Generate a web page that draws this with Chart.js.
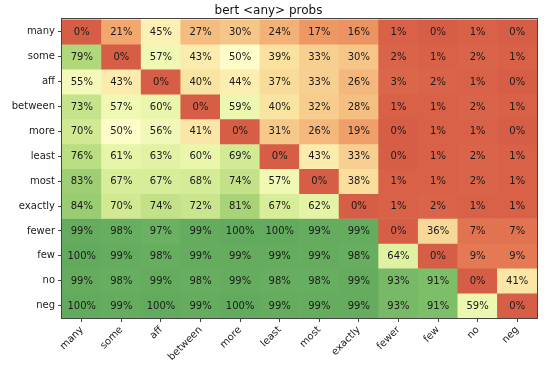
<!DOCTYPE html>
<html>
<head>
<meta charset="utf-8">
<script src="https://cdn.jsdelivr.net/npm/chart.js@4.4.0/dist/chart.umd.min.js"></script>
<style>
  html, body { margin: 0; padding: 0; background: #fff; }
  #wrap { width: 557px; height: 373px; }
</style>
</head>
<body>
<div id="wrap"><canvas id="heat"></canvas></div>
<script>
/* --------------- Data --------------------- */
const colLabels = ["many", "some", "aff", "between", "more", "least", "most", "exactly", "fewer", "few", "no", "neg"];
const rowLabels = ["many", "some", "aff", "between", "more", "least", "most", "exactly", "fewer", "few", "no", "neg"];

// percent values, one array per row
const rowMany    = [0, 21, 45, 27, 30, 24, 17, 16, 1, 0, 1, 0];
const rowSome    = [79, 0, 57, 43, 50, 39, 33, 30, 2, 1, 2, 1];
const rowAff     = [55, 43, 0, 40, 44, 37, 33, 26, 3, 2, 1, 0];
const rowBetween = [73, 57, 60, 0, 59, 40, 32, 28, 1, 1, 2, 1];
const rowMore    = [70, 50, 56, 41, 0, 31, 26, 19, 0, 1, 1, 0];
const rowLeast   = [76, 61, 63, 60, 69, 0, 43, 33, 0, 1, 2, 1];
const rowMost    = [83, 67, 67, 68, 74, 57, 0, 38, 1, 1, 2, 1];
const rowExactly = [84, 70, 74, 72, 81, 67, 62, 0, 1, 2, 1, 1];
const rowFewer   = [99, 98, 97, 99, 100, 100, 99, 99, 0, 36, 7, 7];
const rowFew     = [100, 99, 98, 99, 99, 99, 99, 98, 64, 0, 9, 9];
const rowNo      = [99, 98, 99, 98, 99, 98, 98, 99, 93, 91, 0, 41];
const rowNeg     = [100, 99, 100, 99, 100, 99, 99, 99, 93, 91, 59, 0];

const matrix = [rowMany, rowSome, rowAff, rowBetween, rowMore, rowLeast,
                rowMost, rowExactly, rowFewer, rowFew, rowNo, rowNeg];

/* --------------- Colour map (faded red-yellow-green) --------------------- */
const stops = [
  [0.00, [214, 94, 70]],
  [0.10, [229, 124, 84]],
  [0.20, [241, 163, 108]],
  [0.30, [246, 198, 136]],
  [0.40, [250, 228, 162]],
  [0.50, [254, 252, 200]],
  [0.60, [234, 246, 172]],
  [0.70, [208, 233, 146]],
  [0.80, [172, 214, 120]],
  [0.90, [128, 192, 106]],
  [1.00, [98, 170, 94]],
];
function colorFor(pct) {
  const t = Math.max(0, Math.min(1, pct / 100));
  for (let i = 1; i < stops.length; i++) {
    if (t <= stops[i][0]) {
      const [t0, c0] = stops[i - 1];
      const [t1, c1] = stops[i];
      const f = (t - t0) / (t1 - t0);
      const c = c0.map((v, k) => Math.round(v + (c1[k] - v) * f));
      return `rgb(${c[0]},${c[1]},${c[2]})`;
    }
  }
  const c = stops[stops.length - 1][1];
  return `rgb(${c[0]},${c[1]},${c[2]})`;
}

/* --------------- Datasets: one floating bar row per matrix row --------------------- */
const datasets = matrix.map((row, r) => ({
  label: rowLabels[r],
  data: row.map(() => [r, r + 1]),
  pct: row,
  backgroundColor: row.map(colorFor),
  borderWidth: 0,
  grouped: false,
  barPercentage: 1,
  categoryPercentage: 1,
}));

/* --------------- Cell text + frame --------------------- */
const cellText = {
  id: "cellText",
  afterDatasetsDraw(chart) {
    const ctx = chart.ctx;
    ctx.save();
    ctx.font = "10px 'DejaVu Sans'";
    ctx.fillStyle = "#1a1a1a";
    ctx.textAlign = "center";
    ctx.textBaseline = "middle";
    chart.data.datasets.forEach((ds, i) => {
      chart.getDatasetMeta(i).data.forEach((el, j) => {
        ctx.fillText(ds.pct[j] + "%", el.x, (el.y + el.base) / 2 + 0.5);
      });
    });
    ctx.restore();
  },
  afterDraw(chart) {
    const a = chart.chartArea;
    const ctx = chart.ctx;
    ctx.save();
    ctx.strokeStyle = "#444";
    ctx.lineWidth = 1;
    ctx.strokeRect(Math.round(a.left) - 0.5, Math.round(a.top) - 0.5,
                   Math.round(a.right - a.left) + 1, Math.round(a.bottom - a.top) + 1);
    ctx.restore();
  },
};

/* --------------- Chart --------------------- */
new Chart(document.getElementById("heat"), {
  type: "bar",
  data: { labels: colLabels, datasets: datasets },
  plugins: [cellText],
  options: {
    responsive: true,
    maintainAspectRatio: false,
    animation: false,
    devicePixelRatio: 1,
    layout: { padding: { left: 0, right: 20, top: 0, bottom: 0 } },
    plugins: {
      legend: { display: false },
      tooltip: { enabled: false },
      title: {
        display: true,
        text: "bert <any> probs",
        color: "#111",
        font: { family: "'DejaVu Sans'", size: 12, weight: "normal" },
        padding: { top: 4, bottom: 1 },
      },
    },
    scales: {
      x: {
        type: "category",
        stacked: false,
        offset: true,
        grid: { offset: false, drawOnChartArea: false, drawTicks: true, tickLength: 4, color: "#444" },
        border: { display: false },
        ticks: {
          color: "#222",
          font: { family: "'DejaVu Sans'", size: 10 },
          maxRotation: 45,
          minRotation: 45,
          padding: 2,
          autoSkip: false,
        },
        afterFit: (s) => { s.height = 55; },
      },
      y: {
        type: "linear",
        min: 0,
        max: 12,
        reverse: true,
        grid: { drawOnChartArea: false, drawTicks: true, tickLength: 4, color: "#444" },
        border: { display: false },
        afterBuildTicks: (s) => { s.ticks = rowLabels.map((_, i) => ({ value: i + 0.5 })); },
        ticks: {
          color: "#222",
          font: { family: "'DejaVu Sans'", size: 10 },
          padding: 3,
          callback: (v) => rowLabels[Math.floor(v)],
        },
        afterFit: (s) => { s.width = 62; },
      },
    },
  },
});
</script>
</body>
</html>
